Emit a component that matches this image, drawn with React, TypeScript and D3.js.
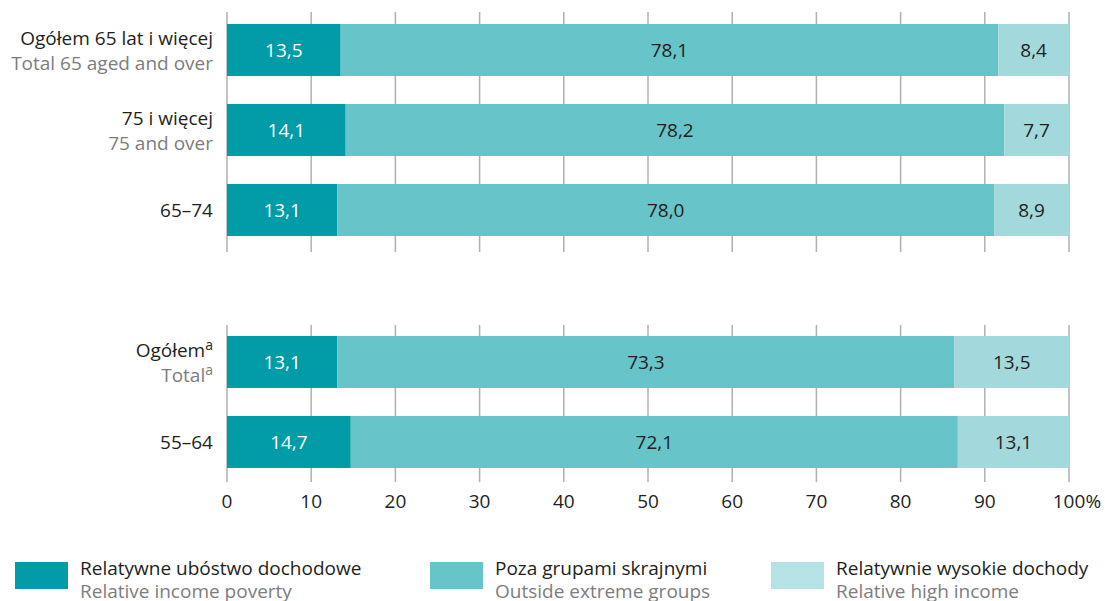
import React from "react";
import * as d3 from "d3";

const topLabelsPl = ["Ogółem 65 lat i więcej", "75 i więcej", "65–74"];
const topLabelsEn = ["Total 65 aged and over", "75 and over", ""];
const topPoverty = [13.5, 14.1, 13.1];
const topMiddle = [78.1, 78.2, 78.0];
const topHigh = [8.4, 7.7, 8.9];

const botLabelsPl = ["Ogółem", "55–64"];
const botLabelsEn = ["Total", ""];
const botSup = [true, false];
const botPoverty = [13.1, 14.7];
const botMiddle = [73.3, 72.1];
const botHigh = [13.5, 13.1];

const xTicks = [0, 10, 20, 30, 40, 50, 60, 70, 80, 90, 100];

const legendPl = ["Relatywne ubóstwo dochodowe", "Poza grupami skrajnymi", "Relatywnie wysokie dochody"];
const legendEn = ["Relative income poverty", "Outside extreme groups", "Relative high income"];

const colors = ["#019ca8", "#67c4c9", "#a3d9dc"];
const legendColors = ["#019ca8", "#67c4c9", "#b5e2e4"];
const textColors = ["#ffffff", "#231f20", "#231f20"];
const FONT = "'Open Sans', 'Noto Sans', sans-serif";
const FS = 19;
const DARK = "#231f20";
const GRAY = "#7d7d7d";

const fmt = (v: number) => v.toFixed(1).replace(".", ",");

function Panel({ labelsPl, labelsEn, sup, values, range, gridTop, gridBottom, x }: any) {
  const ids = labelsPl.map((_: string, i: number) => String(i));
  const y = d3.scaleBand<string>().domain(ids).range(range).paddingInner(0.35).paddingOuter(0.175);
  return (
    <g>
      {xTicks.map((t) => (
        <line key={t} x1={x(t)} x2={x(t)} y1={gridTop} y2={gridBottom} stroke="#b0b0b0" strokeWidth={1.5} />
      ))}
      {ids.map((id: string, i: number) => {
        const segs = values.map((arr: number[]) => arr[i]);
        let acc = 0;
        const y0 = y(id)!;
        const bw = y.bandwidth();
        const cy = y0 + bw / 2;
        const two = labelsEn[i] !== "";
        return (
          <g key={id}>
            {segs.map((v: number, k: number) => {
              const start = acc;
              acc += v;
              const x0 = x(start);
              const x1 = k === segs.length - 1 ? x(100) : x(acc);
              return (
                <g key={k}>
                  <rect x={x0} y={y0} width={x1 - x0} height={bw} fill={colors[k]} />
                  <text x={(x0 + x1) / 2} y={cy} dy="0.35em" textAnchor="middle" fontSize={FS} fill={textColors[k]} fontFamily={FONT}>
                    {fmt(v)}
                  </text>
                </g>
              );
            })}
            <text x={213} y={two ? cy - 12 : cy} dy="0.35em" textAnchor="end" fontSize={FS} fill={DARK} fontFamily={FONT}>
              {labelsPl[i]}
              {sup && sup[i] ? <tspan dy="-0.45em" fontSize={14}>a</tspan> : null}
            </text>
            {two ? (
              <text x={213} y={cy + 13} dy="0.35em" textAnchor="end" fontSize={FS} fill={GRAY} fontFamily={FONT}>
                {labelsEn[i]}
                {sup && sup[i] ? <tspan dy="-0.45em" fontSize={14}>a</tspan> : null}
              </text>
            ) : null}
          </g>
        );
      })}
    </g>
  );
}

export default function App() {
  const W = 1105, H = 601;
  const x = d3.scaleLinear().domain([0, 100]).range([227, 1069]);
  return (
    <svg width={W} height={H} style={{ position: "absolute", left: 0, top: 0, background: "#fff" }}>
      <Panel labelsPl={topLabelsPl} labelsEn={topLabelsEn} values={[topPoverty, topMiddle, topHigh]}
        range={[10, 250]} gridTop={12} gridBottom={252} x={x} />
      <Panel labelsPl={botLabelsPl} labelsEn={botLabelsEn} sup={botSup} values={[botPoverty, botMiddle, botHigh]}
        range={[322, 482]} gridTop={325} gridBottom={482} x={x} />
      {xTicks.map((t) => (
        <g key={t}>
          <text x={x(t)} y={501} dy="0.35em" textAnchor="middle" fontSize={FS} fill={DARK} fontFamily={FONT}>
            {t}
          </text>
          {t === 100 ? (
            <text x={x(t) + 16.5} y={501} dy="0.35em" textAnchor="start" fontSize={FS} fill={DARK} fontFamily={FONT}>%</text>
          ) : null}
        </g>
      ))}
      {legendPl.map((l, i) => {
        const lx = [15, 430, 771][i];
        return (
          <g key={l}>
            <rect x={lx} y={562} width={53} height={27} fill={legendColors[i]} />
            <text x={lx + 65} y={575} fontSize={FS} fill={DARK} fontFamily={FONT}>
              {l}
            </text>
            <text x={lx + 65} y={598} fontSize={FS} fill={GRAY} fontFamily={FONT}>
              {legendEn[i]}
            </text>
          </g>
        );
      })}
    </svg>
  );
}
